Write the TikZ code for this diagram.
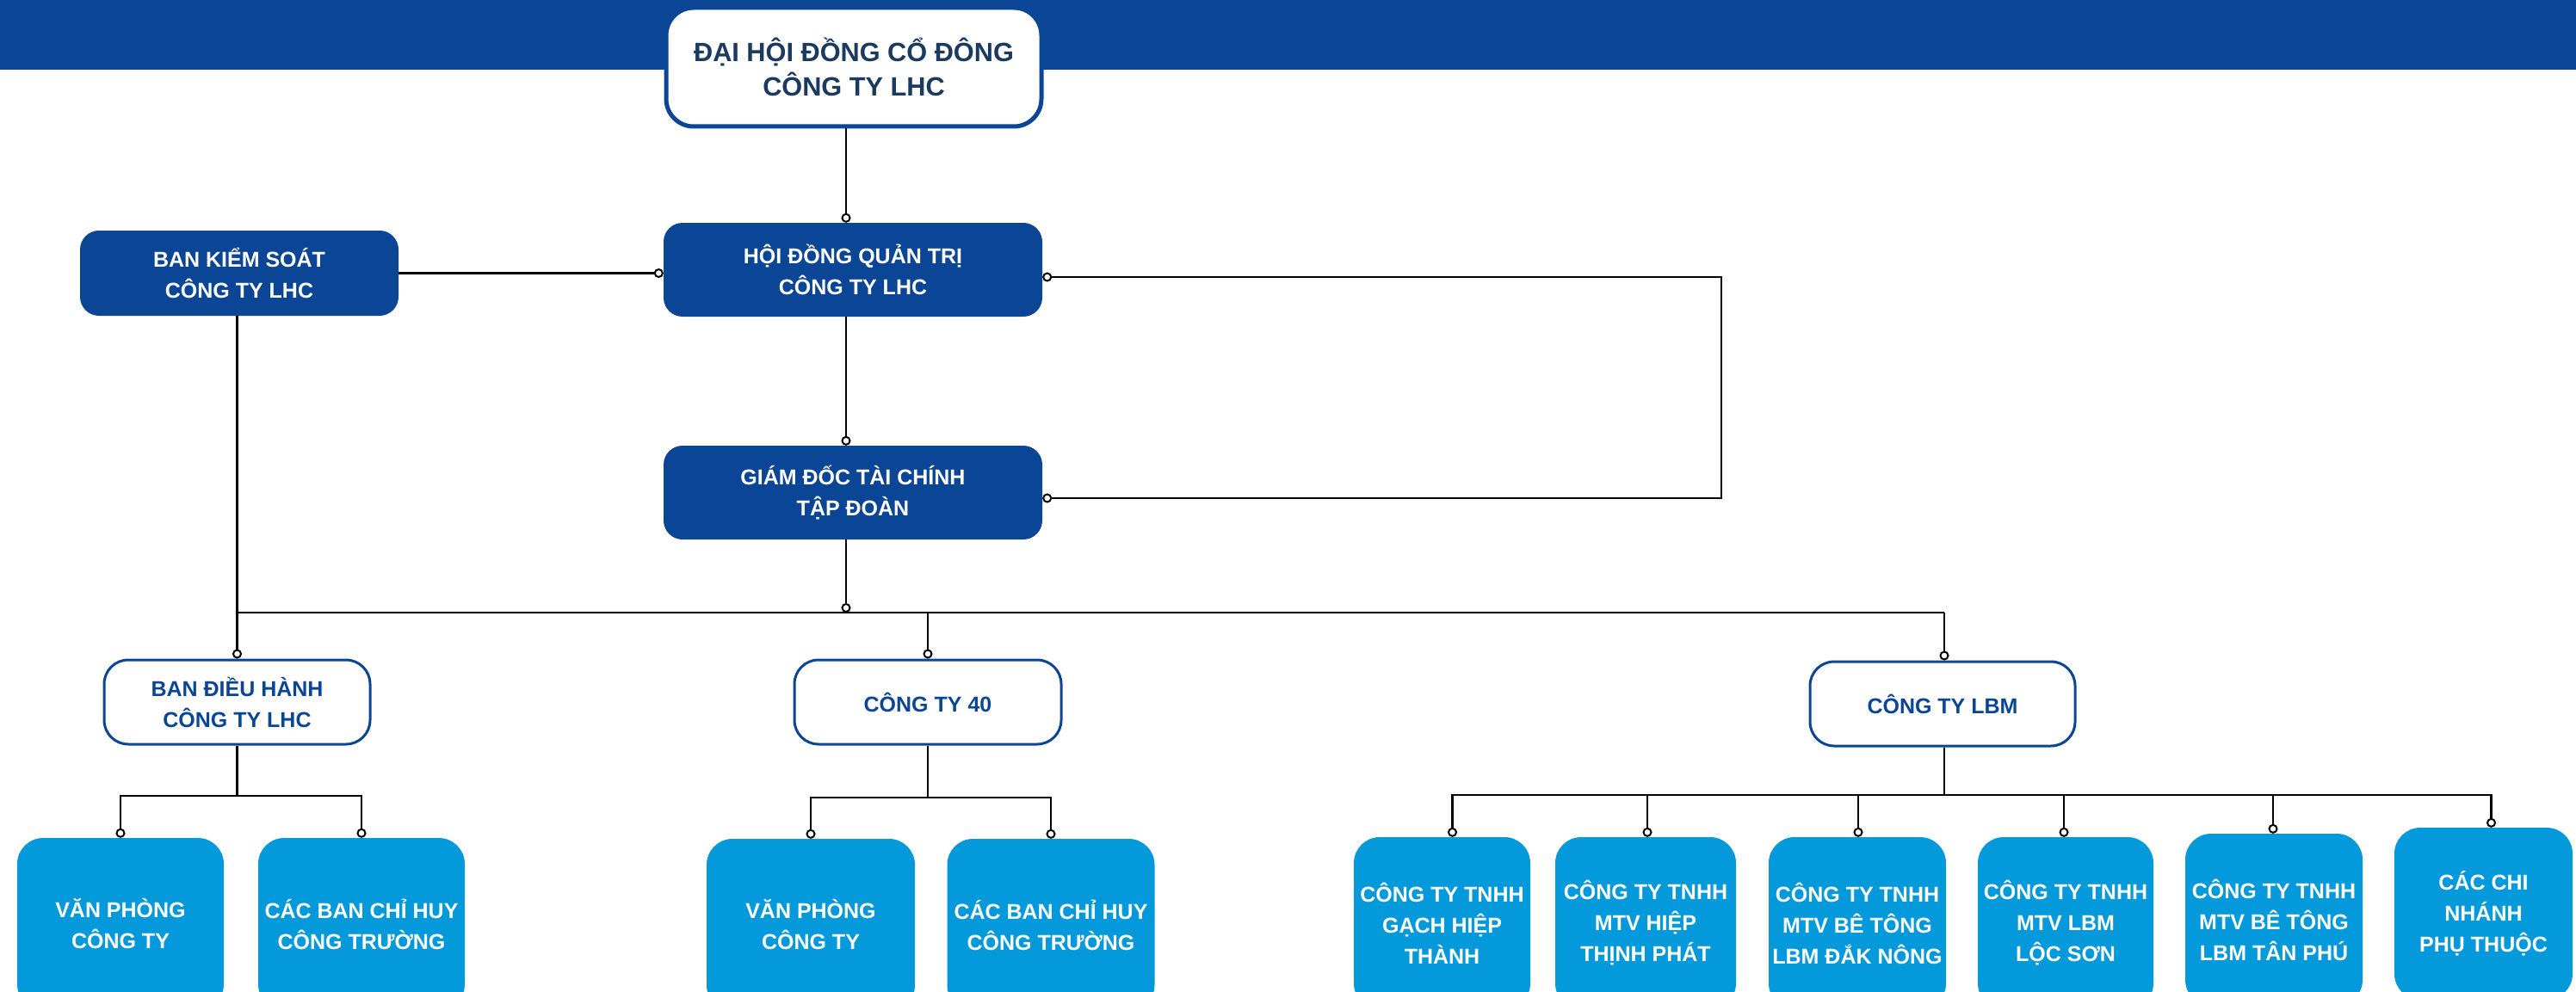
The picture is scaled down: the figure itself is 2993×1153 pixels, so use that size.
\documentclass[tikz,border=0pt]{standalone}
\usepackage{fontspec}
\setmainfont{Liberation Sans}
\usetikzlibrary{arrows.meta}
\definecolor{dkblue}{RGB}{11,69,149}
\definecolor{ltblue}{RGB}{3,153,218}
\definecolor{navy}{RGB}{27,58,95}
\tikzset{ocirc/.tip={Circle[fill=white,length=11pt,width=11pt,line width=2pt]}}
\begin{document}
\begin{tikzpicture}[x=1pt,y=-1pt,
  conn/.style={line width=2.6pt,black},
  dot/.style={conn,-ocirc},
  base/.style={rounded corners=22pt,align=center,inner sep=0pt,font=\bfseries\fontsize{25}{36}\selectfont},
  darkbox/.style={base,fill=dkblue,text=white,minimum width=440pt,minimum height=109pt},
  whitebox/.style={base,draw=dkblue,line width=3pt,fill=white,text=dkblue,rounded corners=28pt,minimum height=98pt},
  lightbox/.style={base,fill=ltblue,text=white,rounded corners=30pt,minimum height=200pt}]
\clip (0,0) rectangle (2993,1153);
\fill[dkblue] (0,0) rectangle (2993,81);

\node[base,draw=dkblue,line width=5pt,fill=white,text=navy,rounded corners=32pt,minimum width=436pt,minimum height=138pt,font=\bfseries\fontsize{30.7}{40}\selectfont] (agm) at (992,78) {ĐẠI HỘI ĐỒNG CỔ ĐÔNG\\CÔNG TY LHC};

\node[darkbox,minimum width=370pt,minimum height=99pt] (bks) at (278,317.5) {BAN KIỂM SOÁT\\CÔNG TY LHC};
\node[darkbox] (hdqt) at (991,313.5) {HỘI ĐỒNG QUẢN TRỊ\\CÔNG TY LHC};
\node[darkbox] (gdtc) at (991,572.5) {GIÁM ĐỐC TÀI CHÍNH\\TẬP ĐOÀN};

\node[whitebox,minimum width=309pt] (bdh) at (275.5,816) {BAN ĐIỀU HÀNH\\CÔNG TY LHC};
\node[whitebox,minimum width=310pt] (c40) at (1078,816) {CÔNG TY 40};
\node[whitebox,minimum width=308pt] (lbm) at (2257,818) {CÔNG TY LBM};

\node[lightbox,minimum width=240pt] (vp1) at (140,1074) {VĂN PHÒNG\\CÔNG TY};
\node[lightbox,minimum width=240pt] (cb1) at (420,1074) {CÁC BAN CHỈ HUY\\CÔNG TRƯỜNG};
\node[lightbox,minimum width=242pt] (vp2) at (942,1075) {VĂN PHÒNG\\CÔNG TY};
\node[lightbox,minimum width=241pt] (cb2) at (1221,1075) {CÁC BAN CHỈ HUY\\CÔNG TRƯỜNG};

\node[lightbox,minimum width=205pt] (k1) at (1675.5,1073) {CÔNG TY TNHH\\GẠCH HIỆP\\THÀNH};
\node[lightbox,minimum width=210pt] (k2) at (1912,1073) {CÔNG TY TNHH\\MTV HIỆP\\THỊNH PHÁT};
\node[lightbox,minimum width=206pt] (k3) at (2158,1073) {CÔNG TY TNHH\\MTV BÊ TÔNG\\LBM ĐẮK NÔNG};
\node[lightbox,minimum width=204pt] (k4) at (2400,1073) {CÔNG TY TNHH\\MTV LBM\\LỘC SƠN};
\node[lightbox,minimum width=206pt] (k5) at (2642,1069) {CÔNG TY TNHH\\MTV BÊ TÔNG\\LBM TÂN PHÚ};
\node[lightbox,minimum width=207pt] (k6) at (2885.5,1062) {CÁC CHI\\NHÁNH\\PHỤ THUỘC};

\coordinate (loopx) at (2000,0);
\coordinate (bus) at (983,712);
\coordinate (b1) at (0,925);
\coordinate (b2) at (0,927);
\coordinate (b3) at (0,924);

% upper connectors
\draw[dot] ([xshift=-9pt]agm.south) -- ([xshift=-8pt]hdqt.north);
\draw[dot] (bks.east) -- (bks.east -| hdqt.west);
\draw[dot] ([xshift=-8pt]hdqt.south) -- ([xshift=-8pt]gdtc.north);
\draw[conn,ocirc-ocirc] ([yshift=-8.5pt]hdqt.east) -- ([yshift=-8.5pt]hdqt.east -| loopx) |- ([yshift=-6.5pt]gdtc.east);
\draw[dot] ([xshift=-8pt]gdtc.south) -- (bus);

% bus
\draw[conn] (bdh.north |- bus) -- ([xshift=2pt]lbm.north |- bus);
\draw[dot] (bks.south -| bdh.north) -- (bdh.north);
\draw[dot] (c40.north |- bus) -- (c40.north);
\draw[dot] ([xshift=2pt]lbm.north |- bus) -- ([xshift=2pt]lbm.north);

% lower brackets
\foreach \c in {vp1,cb1}{\draw[dot] (bdh.south) -- (bdh.south |- b1) -| (\c.north);}
\foreach \c in {vp2,cb2}{\draw[dot] (c40.south) -- (c40.south |- b2) -| (\c.north);}
\foreach \c/\s in {k1/12,k2/2,k3/1,k4/-2,k5/-1,k6/9}{\draw[dot] ([xshift=2pt]lbm.south) -- ([xshift=2pt]lbm.south |- b3) -| ([xshift=\s pt]\c.north);}
\end{tikzpicture}
\end{document}
